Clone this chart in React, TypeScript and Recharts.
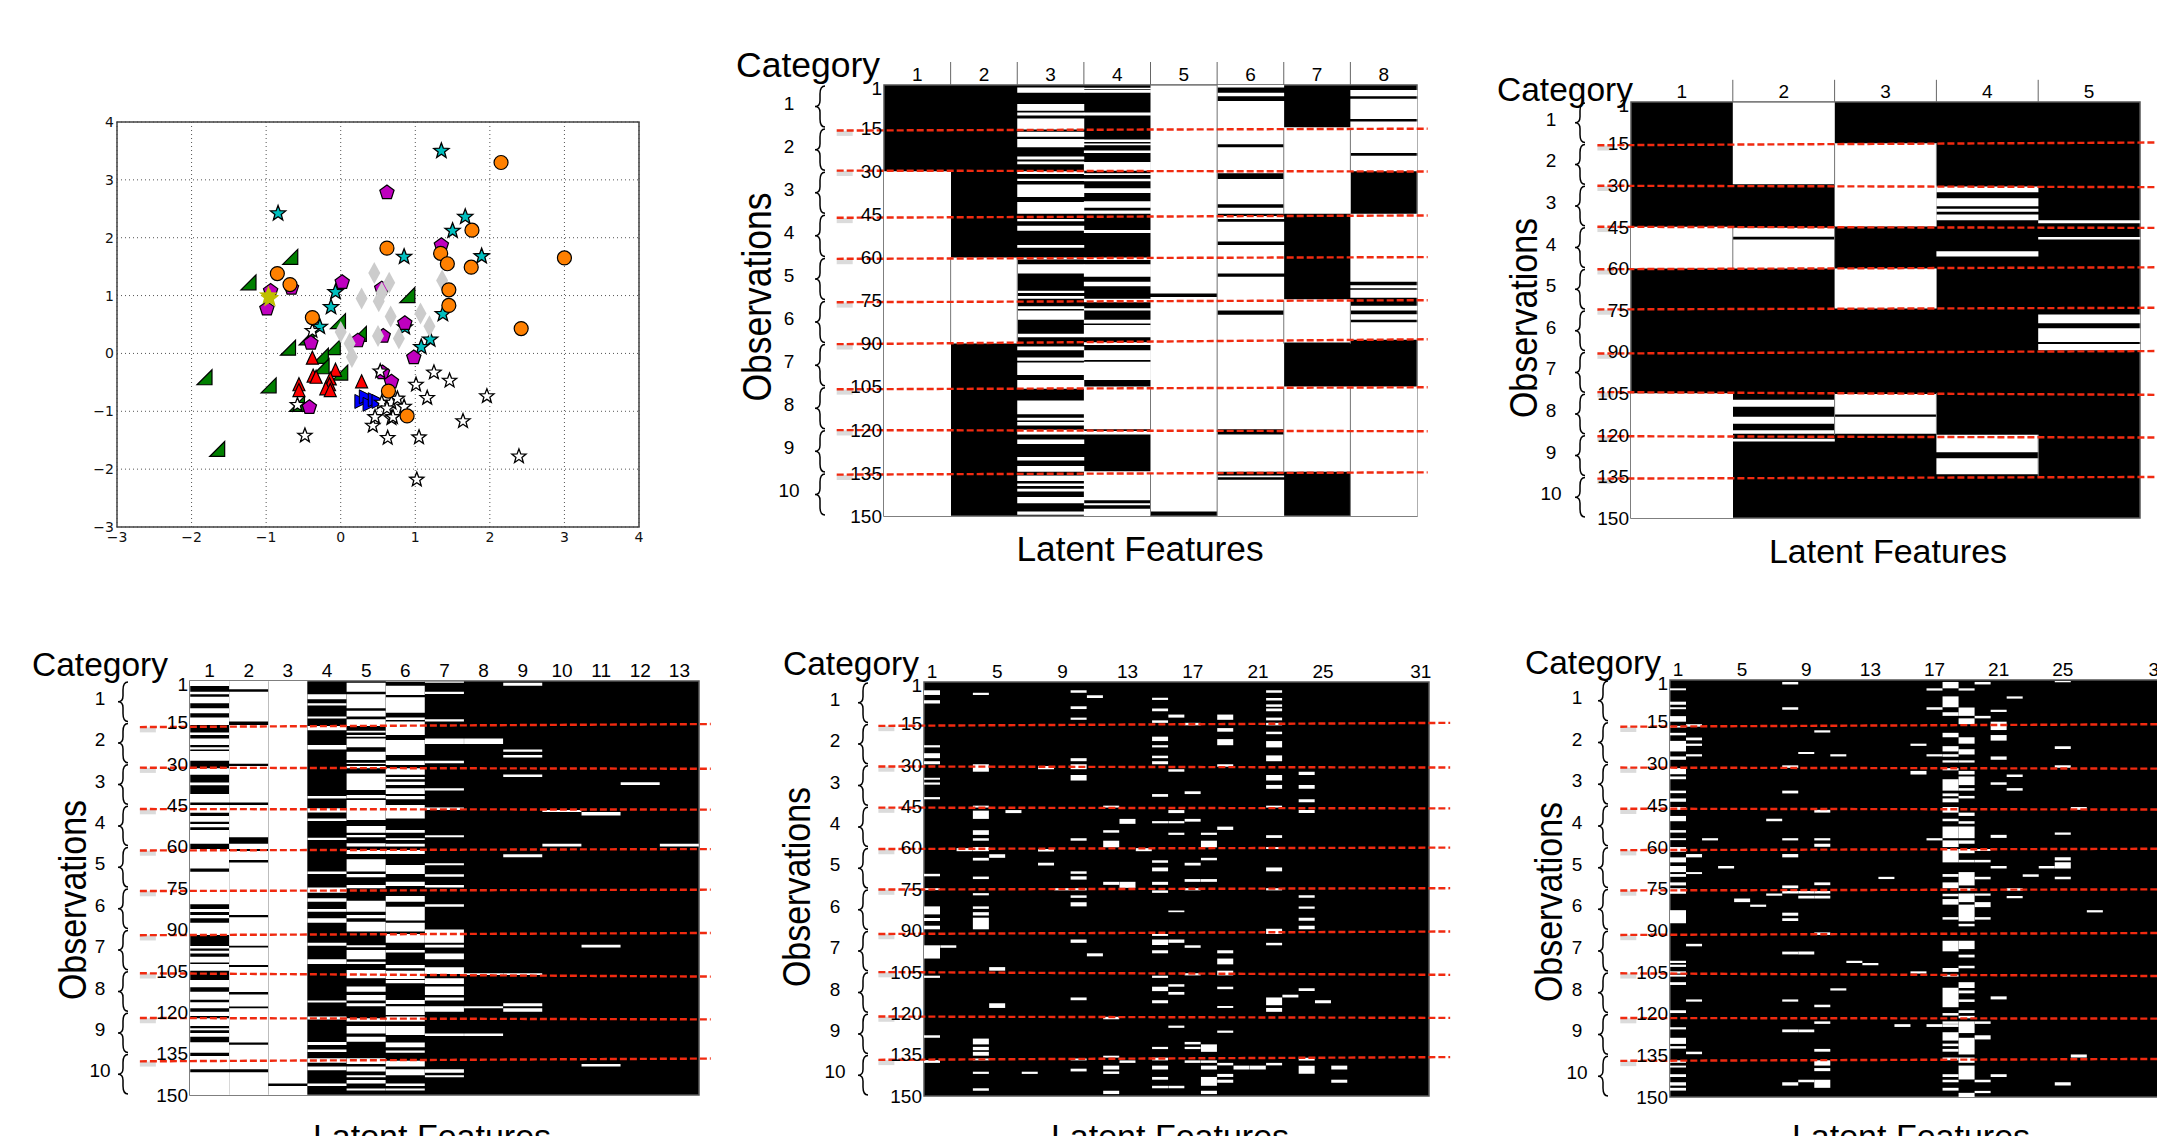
import {
  Bar,
  BarChart,
  CartesianGrid,
  ReferenceArea,
  ReferenceLine,
  Scatter,
  ScatterChart,
  XAxis,
  YAxis,
} from "recharts";

// scatter points, [x, y]
const cyanStars = [[1.35,3.5],[-0.84,2.42],[1.67,2.36],[1.5,2.12],[1.89,1.68],[0.85,1.67],[-0.07,1.06],[-0.13,0.8],[1.37,0.68],[-0.28,0.46],[1.2,0.24],[1.08,0.11],[0.86,0.45]];
const greenCorners = [[-0.67,1.66],[-1.23,1.22],[0.9,1.0],[-0.03,0.55],[0.25,0.33],[-0.45,0.27],[-0.7,0.09],[-0.1,0.1],[-0.26,-0.05],[-0.25,-0.23],[0,-0.34],[-1.82,-0.42],[-0.96,-0.56],[-0.58,-0.88],[-1.65,-1.66]];
const redTriangles = [[-0.38,-0.09],[-0.37,-0.4],[-0.33,-0.42],[-0.07,-0.3],[0.28,-0.5],[-0.14,-0.45],[-0.15,-0.55],[-0.2,-0.62],[-0.14,-0.65],[-0.56,-0.55],[-0.56,-0.65]];
const blueTriangles = [[0.27,-0.83],[0.33,-0.75],[0.38,-0.88],[0.45,-0.8],[0.5,-0.83]];
const magentaPentagons = [[0.62,2.78],[1.35,1.87],[-0.94,1.08],[-0.66,1.13],[0.02,1.23],[0.55,1.12],[-0.99,0.77],[0.86,0.52],[0.57,0.3],[0.23,0.22],[-0.4,0.18],[0.98,-0.07],[0.56,-0.33],[0.68,-0.49],[-0.42,-0.93]];
const grayDiamonds = [[0.45,1.39],[0.65,1.22],[1.36,1.26],[0.28,0.95],[0.55,1.05],[0.51,0.9],[0.67,0.64],[1.07,0.69],[1.19,0.47],[0,0.37],[0.5,0.3],[0.78,0.26],[0.12,0.17],[0.15,-0.06]];
const whiteStars = [[1.25,-0.33],[1.46,-0.47],[1.01,-0.54],[0.53,-0.31],[1.16,-0.77],[1.96,-0.74],[1.64,-1.17],[0.43,-1.25],[-0.48,-1.42],[0.63,-1.46],[1.05,-1.45],[2.39,-1.78],[1.02,-2.18],[-0.58,-0.89],[-0.38,0.39],[0.55,-0.85],[0.68,-0.85],[0.76,-0.78],[0.85,-0.92],[0.46,-1.1],[0.68,-1.12],[0.7,-1.1],[0.62,-0.95]];
const orangeCircles = [[2.15,3.3],[0.62,1.82],[1.76,2.13],[3,1.65],[1.34,1.73],[1.43,1.55],[1.75,1.49],[-0.85,1.38],[-0.68,1.19],[1.45,1.1],[1.45,0.83],[-0.38,0.62],[2.42,0.43],[0.64,-0.65],[0.89,-1.08]];
const yellowStars = [[-0.95,0.95],[-0.97,1.0]];
const scatterTicks = [-3,-2,-1,0,1,2,3,4];

// each column: white runs as start,end pairs along the observations, black is what is left
const panelA = [
  [30,150],
  [60,90],
  [0.9,2.7,6.6,9,9.6,10.6,11.7,15.5,16.3,18,18.8,21.7,24.9,25.9,26.6,27.6,30,31,32.6,33.4,34.6,39,40.7,44.8,46.6,47.4,49,50.7,55.7,56.6,60,60.7,62.4,65.6,71.6,72.4,73.4,74.4,77,78,78.5,81.7,86.6,87.8,91,92.3,94.8,96,96.6,100.9,102.7,105.7,109.8,114.6,115.8,116.8,117.3,118.5,120,121.6,123.4,124.9,129.5,130.7,132.6,134.6,135.9,137.8,138.7,139.6,140.5,141.5,143.4,145.6,148.4,149.6],
  [1,1.5,1.7,2.7,9.6,10.6,19,19.8,20.4,21,22.8,23.7,26.8,29.8,30.7,31.3,32.6,33.5,35.9,37.6,40.5,42.7,43.7,44.8,50.5,51.5,60,60.9,62.4,66.7,68.5,70,74.4,75.6,77.7,78.5,81.7,83,83.5,87.8,89.5,90.5,92.3,95.7,96.3,102.7,104.9,119.8,120.4,121.6,134.4,144.5,145.6,146.3,147.5,150],
  [0.2,72.6,73.8,148.4],
  [0,0.9,2.7,3.9,5.6,20.6,21.7,30.7,32.7,41.5,42.7,44.8,45.6,46.6,47.6,54.5,55.7,65.6,66.7,78.5,80,119.8,121.6,134.6,135.9,136.5,137.4,150],
  [14.7,44.8,74.6,89.6,104.9,134.6],
  [1.7,3.9,4.8,11.8,12.7,23.7,24.6,30,44.8,68.5,69.7,70.7,71.3,74,76.8,78.5,79.8,81.7,82.6,88.7,104.9,150],
];

const panelB = [
  [45,60,105,150],
  [0.2,29.7,45.3,48.6,49.6,60,107.4,109.9,113.5,116,118.4,119.6,121.4,122.4],
  [14.9,44.9,60,74.5,105.3,112.7,113.5,119.6],
  [30.5,32.5,34.7,37.6,38.5,39.6,40.6,42.6,53.8,55.7,120,126.3,128.5,134.2],
  [42.6,43.7,48.7,49.6,76.6,79.8,81.6,86.5,87.3,89.5],
];

const panelC = [
  [0,1.8,3.9,4.8,5.7,8.1,9.9,11.7,13.2,15.9,18.7,19.6,20.8,23.2,24,24.8,25.4,28.9,31.6,34,36.8,37.8,40.9,44,44.9,47.7,48.9,51,51.8,53,54,59,60.9,67.9,69.1,80.9,82.6,83.7,84.8,86,87.6,92,96,96.9,97.7,98.7,99.9,102,102.5,105,108.3,111,112.6,115.5,116.4,118.6,119.8,121.4,122.2,125,125.8,126.5,127.5,128.9,130.9,134.7,135.9,140.7,141.8,150],
  [0,3,3.9,14.7,15.9,30,30.8,44,44.9,56.6,59,60.9,61.6,64.9,65.8,84.8,85.6,95.9,96.6,102.9,103.6,112.7,113.6,117.9,118.6,131,131.8,140.7,141.8,150],
  [0,145.8,146.7,150],
  [4.8,6.6,8.1,8.9,12.9,13.6,16.3,17.8,23.2,24.8,41.7,42.6,46.1,47.6,49.8,50.7,56.8,57.6,69,69.9,74.8,76.7,78.7,80,82.6,83.6,86,87.6,94.8,95.9,100.8,102.5,115.8,116.5,121.6,122.6,130.8,131.9,133.5,134.4,136.7,138.3,139.7,141,145.8,146.7],
  [0.6,3.9,4.8,9.9,10.8,12.9,13.9,16.3,18,18.7,19.6,20.2,20.8,24,25.6,28.6,29.6,30.1,30.8,31.6,33.5,39.5,41.3,42.5,43.1,50.4,52.5,55,55.8,56.6,58.8,60,61.2,62.7,64.6,69,69.9,71.1,73.9,75.1,79.6,83.6,84.8,86,87.2,90.8,95.7,96.5,97.5,100.8,101.7,102.5,104.7,107.7,110.7,112.6,113.8,115.8,116.8,117.8,122.2,123.4,125,127.7,128.9,130.7,136.7,138.8,139.7,141.5,142.8,143.6,144.6,145.8,147.6,148.4],
  [0,0.2,1.7,5.1,5.9,11.5,13.2,14.1,14.7,19.6,21.4,26.8,28.9,30.4,31.6,34,34.8,35.6,36.5,37.7,38.9,40.9,41.7,42.8,44.9,49.8,54,55,57,57.6,59,60,61.2,62.7,66.7,69.9,72.7,74.3,77.9,80,81.8,86.8,87.6,90.8,91.7,94.8,97.5,98.4,102.9,104.1,105,108,108.3,109.5,115.6,117,117.8,121,121.6,123.4,125,128.3,131,132.7,133.9,134.7,137.6,139.7,140.7,142.8,145.8,146.7,147.6,148.4],
  [0.2,0.6,3.9,4.7,13.9,14.7,20.8,22.8,28.9,29.8,38.9,39.7,45.8,46.7,55.9,56.6,66,66.8,70,70.9,73.9,74.8,80.9,81.8,90,94.8,95.6,96.6,98.7,100.8,103.7,106.2,107.7,109.8,110.7,113.8,114.7,115.8,117.8,119.8,127.7,128.6,140.7,141.9,142.8,143.6],
  [20.8,22.8,105.9,106.5,117.8,118.6,127.7,128.6],
  [0.6,1.7,24.8,25.6,26.8,27.7,33.9,34.8,62.8,63.9,105.9,106.5,116.8,117.8,118.6,119.8],
  [46.7,47.5,59,60],
  [47.5,48.7,95.6,96.6,138.8,139.7],
  [36.7,37.7],
  [59,60],
];

const panelD = [
  [3,4.7,6.6,7.8,22.9,23.7,25.8,27.6,28.7,29.8,34.7,35.4,36.4,37.2,41.7,42.5,69.5,70.4,74.7,75.4,81.3,84.2,85.5,86.6,88.3,89.6,95.4,100.2,106.4,107.2,128,128.9,137,138],
  [95.4,96.3],
  [60.2,61.3],
  [3.9,4.7,29.8,32.5,44.8,45.5,46.6,49.6,53.7,55.4,56.6,57.5,59.8,61.3,63.7,64.7,70.5,71.4,76.5,77.3,81.3,82.2,83.4,84.6,85.4,89.6,129.2,131.3,132.2,133.4,134,135.4,136.4,137.1,141.2,142,147.2,148.1],
  [62.4,63.7,103.3,104.6,116.4,118.1],
  [46.4,47.5],
  [141.2,142],
  [30.4,31.6,60.5,61.4,65.5,66.5],
  [74.7,75.5],
  [3,3.9,8.8,9.8,12.9,13.7,27.6,28.7,29.8,31.6,33.7,35.7,56.6,57.5,68.6,69.5,70.4,71.6,74.7,75.5,77.3,78.2,79.8,81.3,93.3,94.5,114.3,115.3,136.4,137.1,140.1,141.1],
  [4.8,5.8,98.3,99.4],
  [44.8,45.5,53.7,54.6,57.5,59.9,72.4,73.5,121.3,122.2,135.4,136.1,139,140.4,141.1,142,148.1,149.3],
  [49.6,51.4,72.4,74.6,137.1,138],
  [60.2,61.3],
  [5.7,6.5,9.6,10.6,13.9,14.8,19.8,21.4,22.9,23.7,26.7,27.6,28.7,29.8,40.6,41.6,50.4,51.2,64.6,65.5,67.2,68.6,72.4,73.5,75.5,76.4,91.3,92,93.3,95.3,97.2,98.3,106.4,107.2,110.4,112,115.3,116.4,132.2,133,136.1,137.1,139,140.4,143.1,144.1,146.3,147.2],
  [11.8,12.9,31.6,32.5,46.4,47.5,50.4,51.2,54.6,55.4,82.8,83.4,93.3,94.5,109.5,110.4,112.3,113.3,124.5,125.3,146.3,147.2],
  [14.8,15.7,39.6,40.6,49.6,50.6,65.5,66.5,71.4,72.4,74.7,75.5,95.4,96.3,105.5,106.3,130.4,131.3,132.2,133,137.1,138],
  [54.6,55.4,57.5,59.9,63.7,64.6,71.4,72.4,131.3,134,137.1,138,139,140.4,143.1,146.3,148.1,149.3],
  [11.8,13.7,16.7,18,20.7,22.9,29.8,30.7,52.4,53.6,97.2,98.3,100.2,102.3,104.6,106.3,110.4,111.3,117.4,118.1,126.3,127.1,138,138.9,142,143.1,144.1,145.2],
  [139,140.4],
  [139,140.4],
  [3,3.9,5.8,6.7,8.1,9,9.6,10.6,12.9,13.9,14.8,15.7,18,18.9,21.4,23.7,26.6,28.7,33.7,35.7,37.3,38.7,44.8,45.5,55.5,56.5,59.8,60.5,67.2,68.6,74.7,75.5,89.4,91.3,94.5,95.4,114.3,117.1,118.1,119.5,138,138.9],
  [113.3,114.3],
  [32.5,33.7,37.3,38.7,42.5,43.6,46.4,47.5,77.3,78.2,81.3,82.2,85.4,86.5,88.3,89.6,111,112,136.1,137.1,139,141.9],
  [115.3,116.4],
  [139,140.4,144.1,145.2],
  [],[],[],[],[],
];

const panelE = [
  [3,3.7,7.8,8.9,9.8,10.5,13,15,16.5,17.1,19,19.9,21.9,25.7,27.5,28.7,31.7,33.9,34.7,35.7,39.8,40.7,42.6,43.8,45.7,46.7,48.9,50.8,54,54.9,56.9,57.6,60.1,61.8,63.8,65.6,66.9,69.1,69.8,70.8,72.8,73.9,74.9,76.9,82.8,87.5,101,101.8,102.4,103.2,104.8,105.6,106,106.7,108.7,109.7,118.8,119.8,124.9,125.7,128.7,130.9,131.7,132.6,136.8,137.7,138.7,139.4,141.8,142.8,144.7,145.9,146.7,147.7],
  [15.9,16.8,20.7,21.7,22.9,23.7,26.7,27.5,62.6,63.8,69.1,69.8,94.9,95.8,114.9,115.7,133.7,134.6],
  [56.9,57.7],
  [66.9,67.8],
  [78.6,79.9],
  [80.8,81.6],
  [49.9,50.8,76.8,77.6],
  [0.7,1.6,9.8,10.7,30.7,31.6,39.8,40.8,56.9,57.7,62.6,63.8,73.9,74.9,75.9,76.8,83.7,84.8,85.7,86.7,97.7,98.7,114.9,115.7,125.7,126.7,144.7,145.9],
  [25.9,26.6,75.9,76.8,77.6,78.6,97.7,98.7,125.7,126.7,143.8,144.7],
  [18.1,18.9,46.7,47.7,56.9,57.7,58.9,60,72.8,73.8,75.9,76.8,77.6,78.6,90.8,91.7,116.8,117.7,122.8,123.7,132.7,133.7,136.8,138.7,139.6,140.7,143.8,146.7],
  [26.7,27.5,110.9,111.7],
  [101,101.8],
  [101.8,102.6],
  [70.8,71.6],
  [123.8,124.8],
  [22.9,23.7,32.7,34,104.8,105.6],
  [3,3.8,9.8,10.7,26.7,27.5,56.9,57.7,123.8,124.8],
  [0.7,3,5.9,9.8,11.6,12.9,19,20.6,23.8,25.7,26.7,27.6,28.9,29.7,31.7,32.5,35.7,39.8,40.8,41.8,42.6,44,45.7,47.7,49.9,50.8,52.7,56.9,57.7,60.1,60.8,65.6,69.8,70.8,72.8,74.9,76.9,77.8,78.8,80.8,85.3,86.2,93.8,97.6,103.6,105,106,106.7,110.7,117.7,119.8,120.7,122.8,123.7,123.8,124.8,126.7,129.7,130.8,131.7,132.7,133.7,135.8,136.8,141.8,142.8,143.8,144.7,146.7,147.7],
  [3,3.8,9.9,12.9,13.8,15.9,20.6,22.9,24.9,26.8,28.9,29.7,32.7,34,34.7,37.8,38.9,39.8,41.7,42.6,47.7,48.9,50.8,51.7,52.7,56.9,57.7,58.9,60.8,62.3,64.7,65.6,69.1,73.9,74.9,75.8,76.8,79.9,80.8,86.8,87.7,88.6,93.8,96.8,98.8,99.8,102.8,103.7,108.7,110.8,111.7,112.7,114.9,115.8,118.8,119.8,120.8,121.7,122.8,127,128.7,134.7,135.8,137.7,138.7,143.7,148.5,150],
  [0.7,1.6,12.9,13.8,60.8,61.5,64.7,65.6,70.8,71.7,76.8,77.6,79.9,81.7,85.3,86.2,122.8,123.7,127.8,129.3,143.8,144.7,147.8,148.6],
  [10.7,11.5,15,18,19.8,21.8,27.5,28.7,36.8,37.7,55.7,56.8,66.9,67.8,113.8,114.9,141.8,142.8],
  [5.9,6.7,34,34.9,38.9,39.8,74.9,75.8,77.7,78.5],
  [69.9,70.8],
  [66.9,67.8],
  [0.4,0.8,23.8,24.8,30.7,31.6,54.9,55.7,63.8,64.9,65.6,67.8,70.8,71.7,144.7,145.9],
  [45.7,46.7,134.7,135.8],
  [82.8,83.6],
  [],[],[],[],
];

// gray hairlines where two white cells meet: column edge, from, to
const hairlinesA = [[1,60,90],[2,60,90],[4,105,120],[4,135,150],[5,0,150],[6,15,45],[6,75,90],[6,105,135],[7,15,30],[7,75,90],[7,105,150]];
const hairlinesB = [[1,45,60],[2,15,30],[2,45,60],[2,105,120],[3,15,30],[3,105,120],[4,120,135]];

// red dashed separators, their y at the left and right ends (the originals are slightly tilted)
const redLeftA = [15.85,29.8,46.2,60.5,75.6,90.2,105.9,120.1,135.6];
const redRightA = [15.2,30.1,45.4,59.9,74.9,88.5,105.2,120.5,134.8];
const redLeftB = [15.6,30.2,45,60.3,74.8,90.7,104.6,120.5,135.8];
const redRightB = [14.6,30.7,45.4,59.6,74.2,89.8,105.6,121,135.2];
const redLeftC = [16.7,31.4,46.4,61.4,76.1,92.1,105.9,122.1,137.8];
const redRightC = [15.6,31.8,46.6,60.9,75.6,91.3,107.1,122.6,136.8];
const redLeftD = [15.9,30.6,45.5,60.5,75.2,91.3,105.1,121.2,136.9];
const redRightD = [14.8,31,45.8,60,74.7,90.4,106.1,121.7,135.9];
const redLeftE = [16.8,31.5,46.3,61.2,75.7,91.7,105.5,121.6,137];
const redRightE = [15.9,31.9,46.6,60.7,75.3,91,106.5,121.8,136.3];

const obsTicks = [1,15,30,45,60,75,90,105,120,135,150];
const categoryCentres = [7.5,22.5,37.5,52.5,67.5,82.5,97.5,112.5,127.5,142.5];
const labelsA = [1,2,3,4,5,6,7,8];
const labelsB = [1,2,3,4,5];
const labelsC = [1,2,3,4,5,6,7,8,9,10,11,12,13];
const labelsWide = [1,5,9,13,17,21,25,31];

const SANS = "'Liberation Sans', Arial, sans-serif";
const TICK_W = 46;
const CAT_W = 70;
const PAD_LEFT = 10;

function buildRows(columns: number[][]) {
  return columns.map((runs, i) => {
    const row: Record<string, number> = { feature: i + 1 };
    let at = 0;
    for (let k = 0; k < runs.length; k += 2) {
      row[`g${k}`] = runs[k] - at;
      row[`w${k}`] = runs[k + 1] - runs[k];
      at = runs[k + 1];
    }
    return row;
  });
}

function CategoryTick({ x, y, payload, braceGap, labelGap, rowPx }: any) {
  const plotLeft = x + TICK_W;
  const bx = plotLeft - braceGap;
  const h = rowPx / 2 - 1;
  const d = `M${bx + 5},${y - h} Q${bx},${y - h} ${bx},${y - h + 8} L${bx},${y - 6} Q${bx},${y} ${bx - 5},${y} Q${bx},${y} ${bx},${y + 6} L${bx},${y + h - 8} Q${bx},${y + h} ${bx + 5},${y + h}`;
  return (
    <g>
      <path d={d} fill="none" stroke="#000" strokeWidth={1.5} />
      <text x={plotLeft - labelGap} y={y} dy={3} textAnchor="middle" fontFamily={SANS} fontSize={19}>
        {(payload.value + 7.5) / 15}
      </text>
    </g>
  );
}

function Heatmap({
  left,
  right,
  top,
  bottom,
  columns,
  labels,
  redLeft,
  redRight,
  redFrom,
  redTo,
  braceGap,
  labelGap,
  hairlines,
}: any) {
  const n = columns.length;
  const rows = buildRows(columns);
  const maxLen = Math.max(...columns.map((c: number[]) => c.length));
  const plotW = right - left;
  const plotH = bottom - top;
  const leftTotal = TICK_W + CAT_W + PAD_LEFT;
  const stackKeys: number[] = [];
  for (let k = 0; k < maxLen; k += 2) stackKeys.push(k);
  const edges: number[] = [];
  for (let k = 1; k < n; k++) edges.push(k);
  const smear = 16 / (plotW / n);

  return (
    <div style={{ position: "absolute", left: left - leftTotal, top: top - 36 }}>
      <BarChart
        width={leftTotal + plotW + 40}
        height={plotH + 46}
        data={rows}
        barCategoryGap={0}
        barGap={0}
        margin={{ top: 6, right: 40, bottom: 10, left: PAD_LEFT }}
      >
        <CartesianGrid horizontal={false} vertical={false} fill="#000" />
        <XAxis
          dataKey="feature"
          type="category"
          orientation="top"
          height={30}
          interval={0}
          tickLine={false}
          axisLine={false}
          tickSize={0}
          tickMargin={4}
          tick={{ fontFamily: SANS, fontSize: 19, fill: "#000" }}
          tickFormatter={(v: number) => (labels.includes(v) ? String(v) : "")}
        />
        <XAxis xAxisId="edges" dataKey="feature" type="number" domain={[0, n]} hide allowDataOverflow />
        <YAxis
          type="number"
          reversed
          domain={[0, 150]}
          ticks={obsTicks}
          interval={0}
          width={TICK_W}
          tickLine={false}
          axisLine={false}
          tickSize={0}
          tickMargin={2}
          tick={{ fontFamily: SANS, fontSize: 19, fill: "#000" }}
        />
        <YAxis
          yAxisId="cat"
          dataKey="feature"
          type="number"
          reversed
          domain={[0, 150]}
          allowDataOverflow
          ticks={categoryCentres}
          interval={0}
          width={CAT_W}
          tickLine={false}
          axisLine={false}
          tickSize={0}
          tickMargin={0}
          tick={(p: any) => (
            <CategoryTick {...p} braceGap={braceGap} labelGap={labelGap} rowPx={plotH / 10} />
          )}
        />
        {stackKeys.map((k) => [
          <Bar key={`g${k}`} dataKey={`g${k}`} stackId="col" fill="none" isAnimationActive={false} />,
          <Bar key={`w${k}`} dataKey={`w${k}`} stackId="col" fill="#fff" isAnimationActive={false} />,
        ])}
        {hairlines &&
          edges.map((k) => (
            <ReferenceLine
              key={`top${k}`}
              xAxisId="edges"
              ifOverflow="visible"
              segment={[{ x: k, y: -8 }, { x: k, y: 0 }]}
              stroke="#666"
              strokeWidth={1}
            />
          ))}
        {hairlines &&
          hairlines.map(([k, y1, y2]: number[], i: number) => (
            <ReferenceLine
              key={`h${i}`}
              xAxisId="edges"
              ifOverflow="visible"
              segment={[{ x: k, y: y1 }, { x: k, y: y2 }]}
              stroke="#777"
              strokeWidth={1}
            />
          ))}
        <ReferenceArea
          xAxisId="edges"
          x1={0}
          x2={n}
          y1={0}
          y2={150}
          ifOverflow="visible"
          fill="none"
          stroke="#555"
          strokeWidth={1.5}
        />
        {redLeft.map((y: number, i: number) => (
          <ReferenceLine
            key={`s${i}`}
            xAxisId="edges"
            ifOverflow="visible"
            segment={[{ x: redFrom, y: y + 1 }, { x: redFrom + smear, y: y + 1 }]}
            stroke="#888"
            strokeOpacity={0.3}
            strokeWidth={5}
          />
        ))}
        {redLeft.map((y: number, i: number) => (
          <ReferenceLine
            key={`r${i}`}
            xAxisId="edges"
            ifOverflow="visible"
            segment={[{ x: redFrom, y }, { x: n + redTo, y: redRight[i] }]}
            stroke="#f02a10"
            strokeWidth={2.4}
            strokeDasharray="7 3"
          />
        ))}
      </BarChart>
    </div>
  );
}

function starPoints(cx: number, cy: number, r: number) {
  const pts: string[] = [];
  for (let i = 0; i < 10; i++) {
    const rad = i % 2 === 0 ? r : r * 0.42;
    const a = -Math.PI / 2 + (i * Math.PI) / 5;
    pts.push(`${cx + rad * Math.cos(a)},${cy + rad * Math.sin(a)}`);
  }
  return pts.join(" ");
}

function Star(color: string, r: number, edge: string) {
  return ({ cx, cy }: any) => (
    <polygon points={starPoints(cx, cy, r)} fill={color} stroke={edge} strokeWidth={1.3} />
  );
}

function Pentagon({ cx, cy }: any) {
  const pts: string[] = [];
  for (let i = 0; i < 5; i++) {
    const a = -Math.PI / 2 + (i * 2 * Math.PI) / 5;
    pts.push(`${cx + 7.5 * Math.cos(a)},${cy + 7.5 * Math.sin(a)}`);
  }
  return <polygon points={pts.join(" ")} fill="#bf00bf" stroke="#000" strokeWidth={1.2} />;
}

function Corner({ cx, cy }: any) {
  return (
    <polygon
      points={`${cx - 8},${cy + 7} ${cx + 7},${cy + 7} ${cx + 7},${cy - 8}`}
      fill="#007f00"
      stroke="#000"
      strokeWidth={1.2}
    />
  );
}

function UpTriangle({ cx, cy }: any) {
  return (
    <polygon
      points={`${cx},${cy - 7.5} ${cx + 6},${cy + 5.5} ${cx - 6},${cy + 5.5}`}
      fill="#ff0000"
      stroke="#000"
      strokeWidth={1.2}
    />
  );
}

function RightTriangle({ cx, cy }: any) {
  return (
    <polygon
      points={`${cx - 6},${cy - 7} ${cx + 8},${cy} ${cx - 6},${cy + 7}`}
      fill="#0000ff"
      stroke="#000"
      strokeWidth={1}
    />
  );
}

function Diamond({ cx, cy }: any) {
  return (
    <polygon
      points={`${cx},${cy - 11} ${cx + 6},${cy} ${cx},${cy + 11} ${cx - 6},${cy}`}
      fill="#cccccc"
    />
  );
}

function Dot({ cx, cy }: any) {
  return <circle cx={cx} cy={cy} r={7} fill="#ff8000" stroke="#000" strokeWidth={1.2} />;
}

const toPoints = (list: number[][]) => list.map(([x, y]) => ({ x, y }));

function ScatterPanel() {
  const left = 117;
  const right = 639;
  const top = 122;
  const bottom = 527;
  const formatTick = (v: number) => String(v).replace("-", "\u2212");
  const tickStyle = { fontFamily: "'DejaVu Sans', sans-serif", fontSize: 14, fill: "#111" };
  return (
    <div style={{ position: "absolute", left: left - 44, top: top - 10 }}>
      <ScatterChart
        width={right - left + 64}
        height={bottom - top + 40}
        margin={{ top: 10, right: 20, bottom: 10, left: 4 }}
      >
        <CartesianGrid stroke="#555" strokeDasharray="1 3" />
        <XAxis
          dataKey="x"
          type="number"
          domain={[-3, 4]}
          ticks={scatterTicks}
          interval={0}
          height={20}
          tickLine={false}
          axisLine={false}
          tickSize={0}
          tickMargin={5}
          tick={tickStyle}
          tickFormatter={formatTick}
        />
        <YAxis
          dataKey="y"
          type="number"
          domain={[-3, 4]}
          ticks={scatterTicks}
          interval={0}
          width={40}
          tickLine={false}
          axisLine={false}
          tickSize={0}
          tickMargin={3}
          tick={tickStyle}
          tickFormatter={formatTick}
        />
        <ReferenceArea x1={-3} x2={4} y1={-3} y2={4} ifOverflow="visible" fill="none" stroke="#444" strokeWidth={1.5} />
        <Scatter data={toPoints(cyanStars)} shape={Star("#00bfbf", 8, "#000")} isAnimationActive={false} />
        <Scatter data={toPoints(greenCorners)} shape={Corner} isAnimationActive={false} />
        <Scatter data={toPoints(redTriangles)} shape={UpTriangle} isAnimationActive={false} />
        <Scatter data={toPoints(blueTriangles)} shape={RightTriangle} isAnimationActive={false} />
        <Scatter data={toPoints(magentaPentagons)} shape={Pentagon} isAnimationActive={false} />
        <Scatter data={toPoints(grayDiamonds)} shape={Diamond} isAnimationActive={false} />
        <Scatter data={toPoints(whiteStars)} shape={Star("#ffffff", 7.5, "#000")} isAnimationActive={false} />
        <Scatter data={toPoints(orangeCircles)} shape={Dot} isAnimationActive={false} />
        <Scatter data={toPoints(yellowStars)} shape={Star("#bfbf00", 10, "none")} isAnimationActive={false} />
      </ScatterChart>
    </div>
  );
}

// free text around the panels: [x, baseline y, size]
const categoryTitles = [[736,77,35.5],[1497,101,33.5],[32,676,33.5],[783,675,33.5],[1525,674,33.5]];
const observationTitles = [[771,297,35.5],[1537,318,34],[86,900,34],[810,887,34],[1562,902,34]];
const latentTitles = [[1140,561,35.3],[1888,563,34],[432,1148,34],[1170,1148,34],[1911,1148,34]];

function PageText() {
  return (
    <svg
      width={2157}
      height={1136}
      style={{ position: "absolute", left: 0, top: 0, pointerEvents: "none" }}
      fontFamily={SANS}
    >
      {categoryTitles.map(([x, y, s], i) => (
        <text key={i} x={x} y={y} fontSize={s}>
          Category
        </text>
      ))}
      {observationTitles.map(([x, y, s], i) => (
        <text key={i} transform={`translate(${x},${y}) rotate(-90) scale(1,1.12)`} textAnchor="middle" fontSize={s}>
          Observations
        </text>
      ))}
      {latentTitles.map(([x, y, s], i) => (
        <text key={i} x={x} y={y} textAnchor="middle" fontSize={s}>
          Latent Features
        </text>
      ))}
    </svg>
  );
}

export default function App() {
  return (
    <div
      style={{
        position: "absolute",
        left: 0,
        top: 0,
        width: 2157,
        height: 1136,
        overflow: "hidden",
        background: "#fff",
      }}
    >
      <ScatterPanel />
      <Heatmap left={884} right={1417} top={85} bottom={516} columns={panelA} labels={labelsA} redLeft={redLeftA} redRight={redRightA} redFrom={-0.71} redTo={0.16} braceGap={64} labelGap={95} hairlines={hairlinesA} />
      <Heatmap left={1631} right={2140} top={102} bottom={518} columns={panelB} labels={labelsB} redLeft={redLeftB} redRight={redRightB} redFrom={-0.33} redTo={0.18} braceGap={51} labelGap={80} hairlines={hairlinesB} />
      <Heatmap left={190} right={699} top={681} bottom={1095} columns={panelC} labels={labelsC} redLeft={redLeftC} redRight={redRightC} redFrom={-1.28} redTo={0.3} braceGap={67} labelGap={90} />
      <Heatmap left={924} right={1429} top={682} bottom={1096} columns={panelD} labels={labelsWide} redLeft={redLeftD} redRight={redRightD} redFrom={-2.8} redTo={1.3} braceGap={61} labelGap={89} />
      <Heatmap left={1670} right={2167} top={680} bottom={1097} columns={panelE} labels={labelsWide} redLeft={redLeftE} redRight={redRightE} redFrom={-3.1} redTo={0} braceGap={67} labelGap={93} />
      <PageText />
    </div>
  );
}
